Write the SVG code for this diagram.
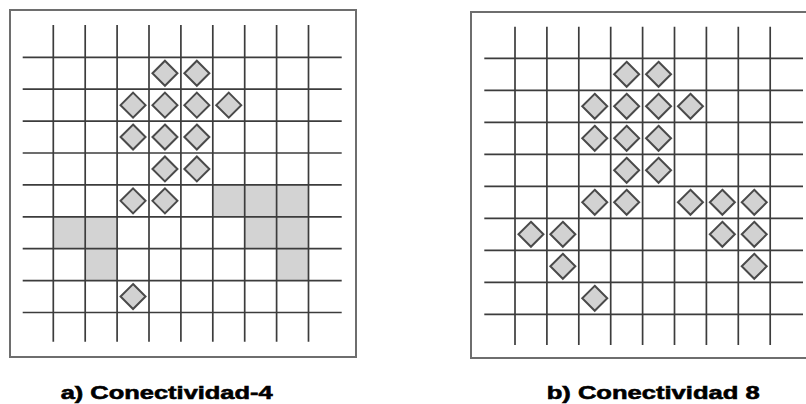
<svg xmlns="http://www.w3.org/2000/svg" xmlns:xlink="http://www.w3.org/1999/xlink" width="806" height="404" viewBox="0 0 806 404">
<style>
.box{fill:#fff;stroke:#6e6e6e;stroke-width:2}
.grid line{stroke:#3c3c3c;stroke-width:1.7}
.shade{fill:#d3d3d3}
.dia{fill:#d2d2d2;stroke:#4a4a4a;stroke-width:2}
.lbl{font-family:"Liberation Sans",Arial,sans-serif;font-weight:bold;font-size:19px;fill:#000;stroke:#000;stroke-width:0.6}
</style>
<defs>
<polygon id="d" class="dia" points="0,-12.5 12.5,0 0,12.5 -12.5,0"/>
</defs>
<rect width="806" height="404" fill="#fff"/>
<g id="panel-a">
<rect class="box" x="10" y="10" width="346" height="347"/>
<g id="shade-a">
<rect class="shade" x="212.8" y="184.9" width="95.7" height="31.9"/>
<rect class="shade" x="53.3" y="216.8" width="63.8" height="31.9"/>
<rect class="shade" x="244.7" y="216.8" width="63.8" height="31.9"/>
<rect class="shade" x="85.2" y="248.7" width="31.9" height="31.9"/>
<rect class="shade" x="276.6" y="248.7" width="31.9" height="31.9"/>
</g>
<g class="grid" id="grid-a">
<line x1="53.3" y1="25" x2="53.3" y2="341.7"/>
<line x1="85.2" y1="25" x2="85.2" y2="341.7"/>
<line x1="117.1" y1="25" x2="117.1" y2="341.7"/>
<line x1="149" y1="25" x2="149" y2="341.7"/>
<line x1="180.9" y1="25" x2="180.9" y2="341.7"/>
<line x1="212.8" y1="25" x2="212.8" y2="341.7"/>
<line x1="244.7" y1="25" x2="244.7" y2="341.7"/>
<line x1="276.6" y1="25" x2="276.6" y2="341.7"/>
<line x1="308.5" y1="25" x2="308.5" y2="341.7"/>
<line x1="22.7" y1="57.3" x2="341.7" y2="57.3"/>
<line x1="22.7" y1="89.2" x2="341.7" y2="89.2"/>
<line x1="22.7" y1="121.1" x2="341.7" y2="121.1"/>
<line x1="22.7" y1="153" x2="341.7" y2="153"/>
<line x1="22.7" y1="184.9" x2="341.7" y2="184.9"/>
<line x1="22.7" y1="216.8" x2="341.7" y2="216.8"/>
<line x1="22.7" y1="248.7" x2="341.7" y2="248.7"/>
<line x1="22.7" y1="280.6" x2="341.7" y2="280.6"/>
<line x1="22.7" y1="312.5" x2="341.7" y2="312.5"/>
</g>
<g id="pixels-a">
<use xlink:href="#d" x="164.95" y="73.25"/>
<use xlink:href="#d" x="196.85" y="73.25"/>
<use xlink:href="#d" x="133.05" y="105.15"/>
<use xlink:href="#d" x="164.95" y="105.15"/>
<use xlink:href="#d" x="196.85" y="105.15"/>
<use xlink:href="#d" x="228.75" y="105.15"/>
<use xlink:href="#d" x="133.05" y="137.05"/>
<use xlink:href="#d" x="164.95" y="137.05"/>
<use xlink:href="#d" x="196.85" y="137.05"/>
<use xlink:href="#d" x="164.95" y="168.95"/>
<use xlink:href="#d" x="196.85" y="168.95"/>
<use xlink:href="#d" x="133.05" y="200.85"/>
<use xlink:href="#d" x="164.95" y="200.85"/>
<use xlink:href="#d" x="133.05" y="296.55"/>
</g>
<text id="label-a" class="lbl" x="60.7" y="399" textLength="212" lengthAdjust="spacingAndGlyphs">a) Conectividad-4</text>
</g>
<g id="panel-b">
<rect class="box" x="471" y="12" width="345" height="346"/>
<g class="grid" id="grid-b">
<line x1="515" y1="26.7" x2="515" y2="345"/>
<line x1="546.9" y1="26.7" x2="546.9" y2="345"/>
<line x1="578.8" y1="26.7" x2="578.8" y2="345"/>
<line x1="610.7" y1="26.7" x2="610.7" y2="345"/>
<line x1="642.6" y1="26.7" x2="642.6" y2="345"/>
<line x1="674.5" y1="26.7" x2="674.5" y2="345"/>
<line x1="706.4" y1="26.7" x2="706.4" y2="345"/>
<line x1="738.3" y1="26.7" x2="738.3" y2="345"/>
<line x1="770.2" y1="26.7" x2="770.2" y2="345"/>
<line x1="484.3" y1="58.3" x2="803" y2="58.3"/>
<line x1="484.3" y1="90.3" x2="803" y2="90.3"/>
<line x1="484.3" y1="122.3" x2="803" y2="122.3"/>
<line x1="484.3" y1="154.3" x2="803" y2="154.3"/>
<line x1="484.3" y1="186.3" x2="803" y2="186.3"/>
<line x1="484.3" y1="218.3" x2="803" y2="218.3"/>
<line x1="484.3" y1="250.3" x2="803" y2="250.3"/>
<line x1="484.3" y1="282.3" x2="803" y2="282.3"/>
<line x1="484.3" y1="314.3" x2="803" y2="314.3"/>
</g>
<g id="pixels-b">
<use xlink:href="#d" x="626.65" y="74.3"/>
<use xlink:href="#d" x="658.55" y="74.3"/>
<use xlink:href="#d" x="594.75" y="106.3"/>
<use xlink:href="#d" x="626.65" y="106.3"/>
<use xlink:href="#d" x="658.55" y="106.3"/>
<use xlink:href="#d" x="690.45" y="106.3"/>
<use xlink:href="#d" x="594.75" y="138.3"/>
<use xlink:href="#d" x="626.65" y="138.3"/>
<use xlink:href="#d" x="658.55" y="138.3"/>
<use xlink:href="#d" x="626.65" y="170.3"/>
<use xlink:href="#d" x="658.55" y="170.3"/>
<use xlink:href="#d" x="594.75" y="202.3"/>
<use xlink:href="#d" x="626.65" y="202.3"/>
<use xlink:href="#d" x="690.45" y="202.3"/>
<use xlink:href="#d" x="722.35" y="202.3"/>
<use xlink:href="#d" x="754.25" y="202.3"/>
<use xlink:href="#d" x="530.95" y="234.3"/>
<use xlink:href="#d" x="562.85" y="234.3"/>
<use xlink:href="#d" x="722.35" y="234.3"/>
<use xlink:href="#d" x="754.25" y="234.3"/>
<use xlink:href="#d" x="562.85" y="266.3"/>
<use xlink:href="#d" x="754.25" y="266.3"/>
<use xlink:href="#d" x="594.75" y="298.3"/>
</g>
<text id="label-b" class="lbl" x="546.7" y="399" textLength="213" lengthAdjust="spacingAndGlyphs">b) Conectividad 8</text>
</g>
</svg>
